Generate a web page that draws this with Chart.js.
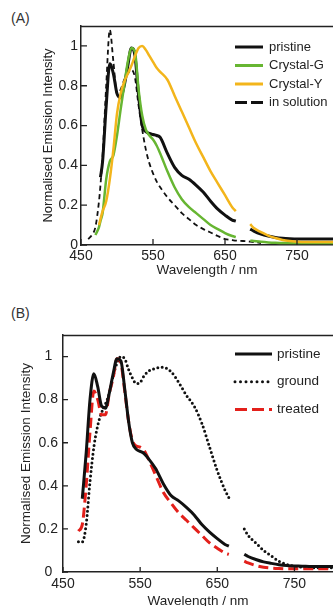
<!DOCTYPE html>
<html>
<head>
<meta charset="utf-8">
<script src="https://cdn.jsdelivr.net/npm/chart.js@4.4.0/dist/chart.umd.min.js"></script>
<style>
  html, body { margin: 0; padding: 0; background: #fff; overflow: hidden; }
  body { width: 333px; height: 606px; position: relative; font-family: "Liberation Sans", Arial, sans-serif; }
  canvas { position: absolute; left: 0; }
  #chartA { top: 0; }
  #chartB { top: 300px; }
  .panel-tag { position: absolute; left: 11px; font-size: 14px; color: #333; }
</style>
</head>
<body>
<div class="panel-tag" style="top:10px">(A)</div>
<canvas id="chartA" width="333" height="290"></canvas>
<div class="panel-tag" style="top:305px">(B)</div>
<canvas id="chartB" width="333" height="320"></canvas>
<script>
const xTicks = [450, 550, 650, 750];
const yTicks = [0, 0.2, 0.4, 0.6, 0.8, 1];

// panel A
const wavelengthsA = [460, 465, 470, 475, 477, 480, 485, 490, 495, 500, 505, 510, 515, 520, 525, 530, 535, 540, 545, 550, 555, 560, 570, 580, 590, 600, 610, 620, 630, 640, 650, 660, 665, 675, 685, 690, 700, 710, 720, 730, 740, 760, 780, 800];
const pristineA = [null, null, null, null, 0.34, 0.42, 0.70, 0.91, 0.86, 0.76, 0.74, 0.80, 0.90, 0.99, 0.95, 0.75, 0.60, 0.57, 0.56, 0.555, 0.55, 0.54, 0.46, 0.39, 0.35, 0.33, 0.30, 0.265, 0.22, 0.18, 0.15, 0.125, 0.12, null, 0.08, 0.07, 0.055, 0.045, 0.038, 0.034, 0.032, 0.03, 0.03, 0.03];
const crystalG = [null, null, 0.05, 0.09, 0.12, 0.16, 0.33, 0.42, 0.45, 0.55, 0.68, 0.80, 0.92, 0.99, 0.97, 0.78, 0.65, 0.58, 0.55, 0.53, 0.50, 0.46, 0.37, 0.29, 0.23, 0.19, 0.16, 0.13, 0.10, 0.08, 0.06, 0.045, 0.04, null, 0.022, 0.02, 0.016, 0.013, 0.011, 0.01, 0.01, 0.01, 0.01, 0.01];
const crystalY = [null, null, null, 0.10, 0.13, 0.17, 0.22, 0.33, 0.48, 0.66, 0.76, 0.82, 0.86, 0.90, 0.95, 0.99, 1.0, 0.98, 0.95, 0.92, 0.89, 0.87, 0.83, 0.75, 0.67, 0.59, 0.51, 0.44, 0.37, 0.31, 0.25, 0.19, 0.17, null, 0.105, 0.085, 0.065, 0.047, 0.035, 0.025, 0.02, 0.015, 0.015, 0.015];
const inSolution = [0.03, 0.05, 0.09, 0.22, 0.30, 0.45, 0.80, 1.08, 0.92, 0.76, 0.78, 0.83, 0.86, 0.88, 0.84, 0.70, 0.58, 0.48, 0.41, 0.36, 0.32, 0.29, 0.24, 0.20, 0.16, 0.13, 0.10, 0.08, 0.063, 0.045, 0.03, 0.025, 0.022, 0.02, 0.017, 0.015, 0.01, null, null, null, null, null, null, null];

// panel B
const wavelengthsB = [470, 475, 480, 485, 490, 495, 500, 505, 510, 515, 520, 525, 530, 535, 540, 545, 550, 555, 560, 570, 580, 590, 600, 610, 620, 630, 640, 650, 660, 665, 675, 685, 690, 700, 710, 720, 730, 740, 760, 780, 800];
const pristineB = [null, 0.34, 0.55, 0.80, 0.92, 0.86, 0.77, 0.76, 0.83, 0.92, 0.99, 0.98, 0.85, 0.70, 0.60, 0.57, 0.56, 0.55, 0.53, 0.48, 0.41, 0.355, 0.33, 0.30, 0.265, 0.22, 0.185, 0.155, 0.128, 0.12, null, 0.082, 0.072, 0.058, 0.047, 0.04, 0.034, 0.03, 0.027, 0.025, 0.025];
const ground = [0.14, 0.14, 0.22, 0.42, 0.58, 0.68, 0.74, 0.78, 0.83, 0.91, 0.97, 1.0, 0.99, 0.94, 0.90, 0.875, 0.88, 0.91, 0.93, 0.945, 0.95, 0.93, 0.88, 0.82, 0.77, 0.69, 0.58, 0.47, 0.38, 0.345, null, 0.20, 0.17, 0.135, 0.10, 0.075, 0.05, 0.035, 0.022, 0.02, 0.02];
const treated = [0.19, 0.22, 0.40, 0.65, 0.84, 0.80, 0.73, 0.73, 0.83, 0.90, 0.99, 0.97, 0.84, 0.70, 0.61, 0.585, 0.58, 0.565, 0.53, 0.45, 0.37, 0.32, 0.275, 0.24, 0.205, 0.17, 0.135, 0.11, 0.088, 0.082, null, 0.05, 0.042, 0.03, 0.022, 0.018, 0.016, 0.015, 0.015, 0.015, 0.015];

Chart.defaults.font.family = '"Liberation Sans", Arial, sans-serif';
Chart.defaults.color = "#222";

function toPoints(xs, ys) {
  return xs.map((x, i) => ({ x: x, y: ys[i] }));
}

// top frame line, inward tick marks and the small legend inside the plot
const paperFrame = {
  id: "paperFrame",
  afterDraw(chart, args, opts) {
    const { ctx, chartArea: area, scales } = chart;
    ctx.save();
    ctx.strokeStyle = "#222";
    ctx.lineWidth = 1.3;
    ctx.setLineDash([]);
    ctx.beginPath();
    ctx.moveTo(area.left, area.top + 0.5);
    ctx.lineTo(area.right, area.top + 0.5);
    scales.x.ticks.forEach((t) => {
      const px = scales.x.getPixelForValue(t.value);
      ctx.moveTo(px, area.bottom);
      ctx.lineTo(px, area.bottom - opts.tick);
    });
    scales.y.ticks.forEach((t) => {
      const py = scales.y.getPixelForValue(t.value);
      ctx.moveTo(area.left, py);
      ctx.lineTo(area.left + opts.tick, py);
    });
    ctx.stroke();

    ctx.font = opts.font + "px " + Chart.defaults.font.family;
    ctx.textBaseline = "middle";
    ctx.fillStyle = "#222";
    chart.data.datasets.forEach((ds, i) => {
      const y = opts.y + i * opts.rowH;
      ctx.beginPath();
      ctx.setLineDash(opts.dashes[i] || []);
      ctx.lineCap = ds.borderCapStyle || "butt";
      ctx.lineWidth = 3;
      ctx.strokeStyle = ds.borderColor;
      ctx.moveTo(opts.x, y);
      ctx.lineTo(opts.x + opts.len, y);
      ctx.stroke();
      ctx.fillText(ds.label, opts.x + opts.len + opts.gap, y);
    });
    ctx.restore();
  },
};

function buildChart(id, datasets, cfg) {
  return new Chart(document.getElementById(id), {
    type: "line",
    data: { datasets: datasets },
    options: {
      responsive: false,
      animation: false,
      layout: { padding: { top: cfg.top, left: 0, right: 0, bottom: 0 } },
      elements: {
        point: { radius: 0 },
        line: { cubicInterpolationMode: "monotone" },
      },
      plugins: {
        legend: { display: false },
        tooltip: { enabled: false },
        paperFrame: cfg.frame,
      },
      scales: {
        x: {
          type: "linear",
          min: 450,
          max: 800,
          afterBuildTicks: (s) => { s.ticks = xTicks.map((v) => ({ value: v })); },
          afterFit: (s) => { s.height = cfg.xHeight; },
          grid: { display: false, drawTicks: false },
          border: { display: true, color: "#222", width: 1.5 },
          ticks: { font: { size: 14 }, padding: cfg.xPad, maxRotation: 0 },
          title: {
            display: true,
            text: "Wavelength / nm",
            font: { size: 13.5 },
            padding: { top: 0, bottom: cfg.xTitlePad },
          },
        },
        y: {
          min: 0,
          max: 1.1,
          afterBuildTicks: (s) => { s.ticks = yTicks.map((v) => ({ value: v })); },
          afterFit: (s) => { s.width = cfg.yWidth; },
          grid: { display: false, drawTicks: false },
          border: { display: true, color: "#222", width: 1.5 },
          ticks: {
            font: { size: 14 },
            padding: cfg.yPad,
            crossAlign: cfg.yAlign,
            callback: (v) => String(v),
          },
          title: {
            display: true,
            text: "Normalised Emission Intensity",
            font: { size: cfg.yTitleSize },
            padding: { top: cfg.yTitlePad, bottom: 0 },
          },
        },
      },
    },
    plugins: [paperFrame],
  });
}

buildChart("chartA", [
  { label: "pristine", data: toPoints(wavelengthsA, pristineA), borderColor: "#111", borderWidth: 3, order: 2 },
  { label: "Crystal-G", data: toPoints(wavelengthsA, crystalG), borderColor: "#67b632", borderWidth: 2.5, order: 1 },
  { label: "Crystal-Y", data: toPoints(wavelengthsA, crystalY), borderColor: "#f3b51b", borderWidth: 2.5, order: 0 },
  { label: "in solution", data: toPoints(wavelengthsA, inSolution), borderColor: "#111", borderWidth: 1.8, borderDash: [5, 3.5], order: 3 },
], {
  top: 26, xHeight: 45, xPad: 3, xTitlePad: 12, yWidth: 81, yPad: 3, yAlign: "near",
  yTitleSize: 13, yTitlePad: 41,
  frame: { tick: 6, x: 235, y: 47, rowH: 18.5, len: 28, gap: 6, font: 13, dashes: { 3: [12, 4] } },
});

buildChart("chartB", [
  { label: "pristine", data: toPoints(wavelengthsB, pristineB), borderColor: "#111", borderWidth: 3, order: 0 },
  { label: "ground", data: toPoints(wavelengthsB, ground), borderColor: "#111", borderWidth: 3, borderDash: [0, 4.4], borderCapStyle: "round", order: 2 },
  { label: "treated", data: toPoints(wavelengthsB, treated), borderColor: "#e3201b", borderWidth: 3, borderDash: [10, 5], order: 1 },
], {
  top: 35, xHeight: 48, xPad: 4, xTitlePad: 11, yWidth: 63, yPad: 5, yAlign: "center",
  yTitleSize: 13.5, yTitlePad: 18,
  frame: { tick: 5, x: 235, y: 54, rowH: 27.7, len: 37, gap: 5, font: 13.5, dashes: { 1: [0, 5.5], 2: [12, 5] } },
});
</script>
</body>
</html>
